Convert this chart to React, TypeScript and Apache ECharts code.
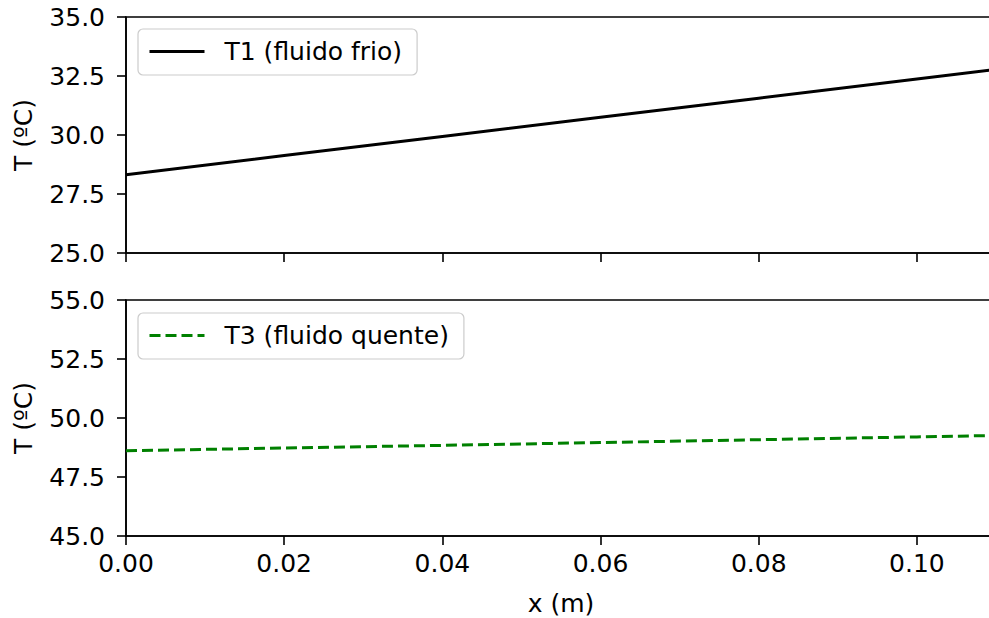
import React, { useEffect, useRef } from "react";
import * as echarts from "echarts";

const xValues = [0, 0.02, 0.04, 0.06, 0.08, 0.1, 0.11];
const t1Values = [28.32, 29.13, 29.94, 30.75, 31.56, 32.37, 32.78];
const t3Values = [48.61, 48.73, 48.84, 48.96, 49.08, 49.2, 49.26];
const t1Name = "T1 (fluido frio)";
const t3Name = "T3 (fluido quente)";
const yName = "T (ºC)";
const xName = "x (m)";

const FONT = "DejaVu Sans";
const FS = 25;

export default function App() {
  const ref = useRef<HTMLDivElement>(null);
  useEffect(() => {
    if (!ref.current) return;
    const chart = echarts.init(ref.current, null, { renderer: "svg" });
    const axisCommon = {
      axisLine: { show: true, lineStyle: { color: "#000", width: 1.6 } },
      axisTick: { show: true, length: 9, lineStyle: { color: "#000", width: 1.6 } },
      splitLine: { show: false },
    };
    const xAxisBase = (gridIndex: number, showLabel: boolean) => ({
      type: "value",
      gridIndex,
      min: 0,
      max: 0.11,
      interval: 0.02,
      ...axisCommon,
      axisLabel: {
        show: showLabel,
        showMaxLabel: false,
        color: "#000",
        fontFamily: FONT,
        fontSize: FS,
        margin: 15,
        formatter: (v: number) => v.toFixed(2),
      },
      ...(showLabel
        ? {
            name: xName,
            nameLocation: "middle",
            nameGap: 55,
            nameTextStyle: { color: "#000", fontFamily: FONT, fontSize: FS },
          }
        : {}),
    });
    const yAxisBase = (gridIndex: number, min: number, max: number) => ({
      type: "value",
      gridIndex,
      min,
      max,
      interval: 2.5,
      ...axisCommon,
      axisLabel: {
        color: "#000",
        fontFamily: FONT,
        fontSize: FS,
        margin: 21,
        formatter: (v: number) => v.toFixed(1),
      },
      name: yName,
      nameLocation: "middle",
      nameGap: 90,
      nameTextStyle: { color: "#000", fontFamily: FONT, fontSize: FS },
    });
    const legendBase = (name: string, top: number) => ({
      data: [name],
      left: 138,
      top,
      orient: "vertical",
      itemWidth: 55,
      itemHeight: 25,
      padding: [10, 15, 11, 10],
      borderColor: "#cccccc",
      borderWidth: 1.2,
      borderRadius: 5,
      backgroundColor: "#fff",
      itemStyle: { opacity: 0 },
      lineStyle: { width: 3 },
      textStyle: { color: "#000", fontFamily: FONT, fontSize: FS, padding: [0, 0, 0, 15] },
    });
    chart.setOption({
      animation: false,
      backgroundColor: "#fff",
      grid: [
        { left: 126, top: 17, width: 870, height: 236, outerBoundsMode: "none", containLabel: false, show: true, borderColor: "#000", borderWidth: 1.6, backgroundColor: "transparent" },
        { left: 126, top: 300, width: 870, height: 236, outerBoundsMode: "none", containLabel: false, show: true, borderColor: "#000", borderWidth: 1.6, backgroundColor: "transparent" },
      ],
      xAxis: [xAxisBase(0, false), xAxisBase(1, true)],
      yAxis: [yAxisBase(0, 25, 35), yAxisBase(1, 45, 55)],
      legend: [legendBase(t1Name, 29), legendBase(t3Name, 313)],
      series: [
        {
          name: t1Name,
          type: "line",
          xAxisIndex: 0,
          yAxisIndex: 0,
          symbol: "none",
          data: xValues.map((x, i) => [x, t1Values[i]]),
          lineStyle: { color: "#000", width: 3 },
          itemStyle: { color: "#000" },
        },
        {
          name: t3Name,
          type: "line",
          xAxisIndex: 1,
          yAxisIndex: 1,
          symbol: "none",
          data: xValues.map((x, i) => [x, t3Values[i]]),
          lineStyle: { color: "#008000", width: 3, type: [11, 5] },
          itemStyle: { color: "#008000" },
        },
      ],
    });
    return () => chart.dispose();
  }, []);
  return (
    <div
      ref={ref}
      style={{ position: "fixed", left: 0, top: 0, width: 989, height: 618, background: "#fff" }}
    />
  );
}
